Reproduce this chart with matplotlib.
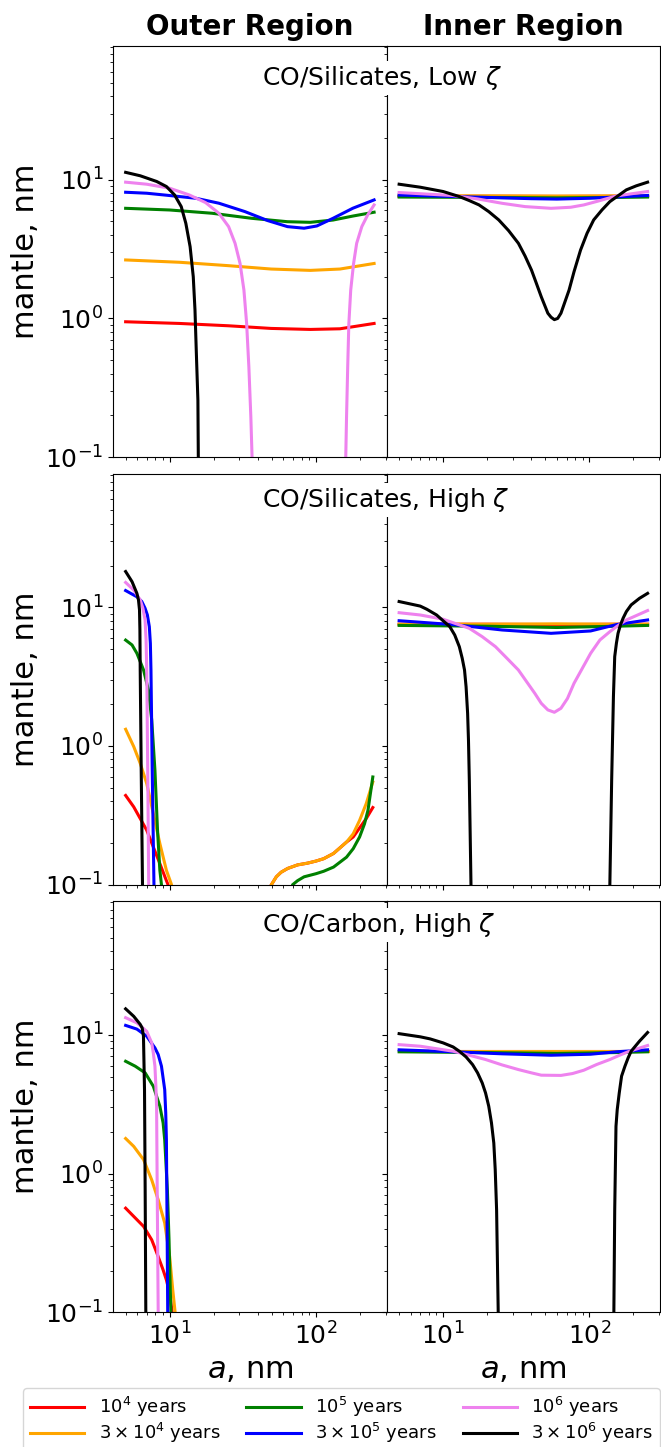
import matplotlib
matplotlib.use('Agg')
import matplotlib.pyplot as plt
import numpy as np

# time labels and colours of the six curves
labels = [r'$10^4$ years', r'$3\times10^4$ years', r'$10^5$ years',
          r'$3\times10^5$ years', r'$10^6$ years', r'$3\times10^6$ years']
colors = ['red', 'orange', 'green', 'blue', 'violet', 'black']

row_titles = [r'CO/Silicates, Low $\zeta$', r'CO/Silicates, High $\zeta$',
              r'CO/Carbon, High $\zeta$']

# ---- row 1: CO/Silicates, low zeta ----
outer_low = [
    ([5, 11.67, 25.3, 49.4, 91.6, 146, 250], [0.946, 0.92, 0.885, 0.847, 0.833, 0.842, 0.92]),
    ([5, 11.67, 25.3, 49.4, 91.6, 146, 250], [2.64, 2.54, 2.40, 2.27, 2.22, 2.27, 2.49]),
    ([5, 10, 19.5, 36.3, 63.9, 91.6, 131, 179, 250], [6.22, 6.05, 5.73, 5.27, 4.98, 4.93, 5.12, 5.47, 5.83]),
    ([5, 6.97, 10, 15.1, 21.7, 32.7, 46.9, 63.9, 83.0, 101.5, 131, 179, 250],
     [8.12, 7.99, 7.69, 7.35, 6.77, 5.89, 5.07, 4.59, 4.47, 4.64, 5.27, 6.23, 7.15]),
    ([5, 6.97, 10, 13.6, 17.6, 21.7, 25.3, 28.0, 30.3, 32.2, 33.6, 34.8, 35.9, 36.6, 37.5,
      158, 160, 162, 165, 168, 173, 181, 190, 206, 226, 250],
     [9.6, 9.28, 8.68, 7.77, 6.84, 5.73, 4.59, 3.48, 2.49, 1.60, 0.92, 0.448, 0.195, 0.1, 0.01,
      0.01, 0.1, 0.195, 0.448, 0.92, 1.60, 2.49, 3.48, 4.59, 5.57, 6.58]),
    ([5, 6.3, 8.15, 9.5, 10.8, 12.0, 12.9, 13.8, 14.5, 14.9, 15.2, 15.6, 15.7, 16.0],
     [11.3, 10.67, 9.71, 8.93, 7.77, 6.40, 4.85, 3.29, 2.0, 1.15, 0.59, 0.257, 0.1, 0.01]),
]
inner_low = [
    ([5, 20, 60, 150, 250], [7.6, 7.6, 7.58, 7.6, 7.6]),
    ([5, 20, 60, 150, 250], [7.65, 7.65, 7.62, 7.65, 7.65]),
    ([5, 20, 60, 150, 250], [7.5, 7.45, 7.4, 7.45, 7.5]),
    ([5, 10, 20, 40, 60, 100, 170, 250], [7.75, 7.6, 7.45, 7.3, 7.25, 7.35, 7.55, 7.7]),
    ([5, 11.67, 17.2, 25.3, 36.3, 54.7, 74.5, 91.6, 118, 153, 250],
     [8.08, 7.69, 7.27, 6.76, 6.40, 6.22, 6.33, 6.58, 7.07, 7.64, 8.22]),
    ([5, 6.97, 10, 12.9, 15.1, 17.6, 20.5, 24, 28.0, 32.7, 36.3, 40.2, 43.4, 46.9, 52, 54.7, 57.6,
      60.7, 63.9, 72.6, 78.5, 87, 96.4, 107, 122, 138, 179, 209, 250],
     [9.28, 8.83, 8.22, 7.56, 7.07, 6.58, 5.89, 5.13, 4.30, 3.48, 2.82, 2.23, 1.79, 1.43, 1.09, 1.02, 0.98,
      1.0, 1.09, 1.6, 2.17, 3.11, 4.11, 5.13, 6.06, 6.95, 8.45, 9.03, 9.6]),
]

# ---- row 2: CO/Silicates, high zeta ----
outer_high_sil = [
    ([5, 5.68, 6.29, 6.97, 7.73, 8.57, 9.5, 9.75, 10, 45, 49.6, 53.6, 57.8, 64.1, 75, 87.5, 100, 113,
      132, 162, 180, 221, 245],
     [0.44, 0.364, 0.30, 0.247, 0.187, 0.142, 0.107, 0.1, 0.08, 0.08, 0.1, 0.114, 0.123, 0.131, 0.139, 0.143,
      0.148, 0.154, 0.168, 0.203, 0.221, 0.30, 0.36]),
    ([5, 5.68, 6.29, 6.97, 7.73, 8.57, 9.5, 10.3, 10.5, 45, 49.6, 53.6, 57.8, 64.1, 75, 87.5, 100, 113,
      132, 162, 180, 199, 221, 245],
     [1.32, 0.99, 0.75, 0.536, 0.326, 0.198, 0.127, 0.1, 0.08, 0.08, 0.1, 0.114, 0.123, 0.131, 0.139, 0.143,
      0.148, 0.154, 0.168, 0.203, 0.233, 0.291, 0.385, 0.55]),
    ([5, 5.53, 5.97, 6.29, 6.63, 7.16, 7.54, 7.93, 8.26, 8.57, 8.79, 8.9, 65, 69.3, 75, 83, 100, 113, 132,
      162, 180, 199, 215, 227, 245],
     [5.8, 5.35, 4.66, 4.06, 3.53, 2.53, 1.54, 0.67, 0.247, 0.127, 0.1, 0.05, 0.05, 0.1, 0.107, 0.114, 0.12,
      0.125, 0.134, 0.158, 0.182, 0.221, 0.275, 0.344, 0.598]),
    ([5, 5.97, 6.45, 6.79, 7.04, 7.26, 7.38, 7.45, 7.6, 7.81, 7.9],
     [13.2, 11.9, 11.0, 9.84, 8.81, 7.25, 5.50, 3.53, 0.67, 0.1, 0.01]),
    ([5, 5.68, 6.29, 6.56, 6.79, 6.90, 6.97, 7.08, 7.19, 7.3],
     [15.1, 13.3, 11.3, 9.84, 8.1, 5.80, 3.5, 0.67, 0.1, 0.01]),
    ([5, 5.53, 5.97, 6.12, 6.22, 6.26, 6.29, 6.39, 6.52, 6.6],
     [18.1, 15.3, 12.6, 11.3, 9.57, 6.86, 3.53, 0.67, 0.1, 0.01]),
]
inner_high_sil = [
    ([5, 20, 60, 150, 250], [7.55, 7.55, 7.5, 7.55, 7.55]),
    ([5, 20, 60, 150, 250], [7.55, 7.55, 7.6, 7.55, 7.55]),
    ([5, 20, 60, 150, 250], [7.4, 7.3, 7.15, 7.3, 7.4]),
    ([5, 11.7, 25.3, 54.7, 102, 153, 250], [8.0, 7.5, 6.86, 6.49, 6.75, 7.5, 8.1]),
    ([5, 6.97, 10, 15.1, 18.5, 22.8, 27.3, 32.7, 42.3, 46.9, 52, 57.6, 63.9, 70.8, 78.5, 102, 118, 138,
      153, 179, 250],
     [9.14, 8.8, 8.2, 7.05, 6.14, 5.2, 4.29, 3.53, 2.4, 2.03, 1.82, 1.75, 1.87, 2.2, 2.83, 4.66, 5.81, 6.67,
      7.24, 8.1, 9.47]),
    ([5, 6.97, 7.73, 9.02, 11.1, 12.0, 12.9, 13.5, 14.0, 14.35, 14.7, 14.9, 15.1, 15.5, 15.8,
      135, 138, 142, 146, 149, 153, 157, 163, 170, 179, 193, 220, 250],
     [11.0, 10.2, 9.68, 8.8, 7.25, 6.31, 5.2, 4.29, 3.53, 2.67, 1.72, 1.10, 0.566, 0.1, 0.01,
      0.01, 0.1, 0.566, 2.27, 4.41, 5.50, 6.49, 7.45, 8.34, 9.31, 10.4, 11.6, 12.6]),
]

# ---- row 3: CO/Carbon, high zeta ----
outer_carbon = [
    ([5, 5.68, 6.63, 7.54, 8.35, 9.02, 9.5, 10.0, 10.4, 10.5],
     [0.563, 0.491, 0.416, 0.333, 0.252, 0.202, 0.171, 0.137, 0.1, 0.05]),
    ([5, 5.68, 6.63, 7.54, 8.35, 9.25, 10.0, 10.5, 10.9, 11.0],
     [1.79, 1.57, 1.26, 0.90, 0.647, 0.44, 0.252, 0.145, 0.1, 0.05]),
    ([5, 5.82, 6.8, 7.73, 8.57, 9.02, 9.25, 9.65, 9.9, 10.1, 10.2, 10.3],
     [6.45, 5.94, 5.32, 4.26, 3.06, 2.32, 1.75, 0.76, 0.333, 0.145, 0.1, 0.01]),
    ([5, 5.97, 6.97, 7.93, 8.35, 8.79, 9.25, 9.4, 9.5, 9.6, 9.7, 9.8],
     [11.7, 11.0, 9.77, 8.05, 7.21, 5.94, 4.03, 2.74, 1.75, 0.44, 0.1, 0.01]),
    ([5, 5.97, 6.97, 7.54, 7.73, 7.93, 8.05, 8.14, 8.22, 8.35, 8.45],
     [13.3, 12.2, 10.6, 8.75, 7.41, 5.94, 4.26, 3.06, 0.76, 0.1, 0.01]),
    ([5, 5.68, 6.29, 6.49, 6.62, 6.73, 6.8, 6.87, 6.95],
     [15.4, 13.6, 11.9, 11.2, 9.8, 4.03, 0.76, 0.1, 0.01]),
]
inner_carbon = [
    ([5, 20, 60, 150, 250], [7.6, 7.6, 7.6, 7.6, 7.6]),
    ([5, 20, 60, 150, 250], [7.7, 7.7, 7.7, 7.7, 7.7]),
    ([5, 20, 60, 150, 250], [7.55, 7.45, 7.35, 7.45, 7.55]),
    ([5, 11.7, 25.3, 54.7, 102, 153, 250], [7.8, 7.55, 7.3, 7.13, 7.25, 7.55, 7.8]),
    ([5, 6.97, 11.7, 15.1, 19.5, 25.3, 32.7, 40.2, 46.9, 63.9, 76.6, 91.6, 112, 138, 161, 188, 250],
     [8.5, 8.28, 7.62, 7.13, 6.64, 6.07, 5.62, 5.32, 5.12, 5.1, 5.26, 5.56, 6.11, 6.64, 7.13, 7.62, 8.38]),
    ([5, 6.97, 8.15, 10, 11.7, 12.9, 14.35, 15.9, 17.2, 18.5, 19.5, 20.5, 21.4, 22.2, 22.7, 23.2, 23.8, 24.2,
      145, 147, 149, 152, 155, 160, 166, 175, 184, 193, 206, 220, 250],
     [10.2, 9.68, 9.35, 8.75, 8.18, 7.62, 6.93, 6.1, 5.32, 4.5, 3.81, 3.06, 2.32, 1.66, 1.07, 0.548, 0.1, 0.01,
      0.01, 0.1, 0.548, 2.19, 2.89, 3.81, 5.04, 5.94, 6.82, 7.62, 8.28, 9.0, 10.4]),
]

panels = [[outer_low, inner_low], [outer_high_sil, inner_high_sil], [outer_carbon, inner_carbon]]
text_y = [78, 500, 925]

fig, axes = plt.subplots(3, 2, figsize=(6.61, 14.47), dpi=100, sharex=True, sharey=True)
fig.subplots_adjust(left=0.171, right=0.9985, top=0.9682, bottom=0.0931, hspace=0.04, wspace=0)

for i in range(3):
    for j in range(2):
        ax = axes[i, j]
        for k, (a, m) in enumerate(panels[i][j]):
            ax.plot(a, m, color=colors[k], lw=2.2, label=labels[k])
        ax.set_xscale('log')
        ax.set_yscale('log')
        ax.tick_params(labelsize=18)
    axes[i, 0].set_ylabel('mantle, nm', fontsize=22)
    fig.text(262 / 661, 1 - text_y[i] / 1447, row_titles[i], fontsize=18, ha='left', va='center',
             bbox=dict(facecolor='white', edgecolor='none', pad=2))

axes[0, 0].set_ylim(0.1, 92)
axes[0, 0].set_xlim(4.1, 304)
axes[2, 0].set_xlabel('$a$, nm', fontsize=22)
axes[2, 1].set_xlabel('$a$, nm', fontsize=22)
axes[0, 0].set_title('Outer Region', fontsize=20, fontweight='bold', pad=8)
axes[0, 1].set_title('Inner Region', fontsize=20, fontweight='bold', pad=8)

handles, labs = axes[0, 0].get_legend_handles_labels()
fig.legend(handles, labs, loc='upper left', ncol=3, mode='expand', fontsize=13,
           handlelength=3, borderaxespad=0, labelspacing=0.1,
           bbox_to_anchor=(23 / 661, 0, 637 / 661, 1 - 1388 / 1447))

plt.savefig('out.png', dpi=100)
